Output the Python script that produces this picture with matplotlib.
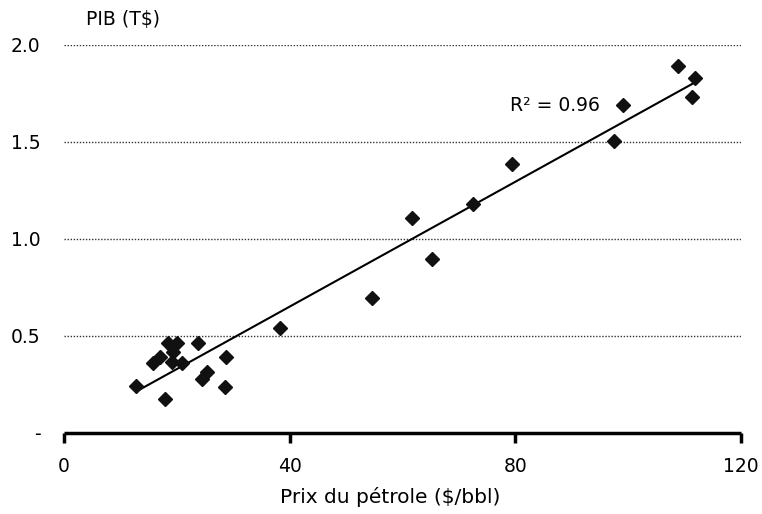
import numpy as np
import matplotlib
matplotlib.use("Agg")
import matplotlib.pyplot as plt

plt.rcParams['font.family'] = ['DejaVu Sans']

# Oil price ($/bbl) and GDP (T$)
oil_price = [12.8, 17.9, 15.8, 17.0, 18.5, 20.1, 19.3, 19.1, 20.9, 23.8,
             24.4, 25.3, 28.5, 28.8, 38.3, 54.6, 61.7, 65.2, 72.5, 79.5,
             97.5, 99.1, 108.8, 111.4, 111.8]
gdp = [0.244, 0.175, 0.359, 0.393, 0.462, 0.462, 0.419, 0.368, 0.359, 0.465,
       0.277, 0.316, 0.236, 0.393, 0.540, 0.694, 1.110, 0.897, 1.180, 1.387,
       1.507, 1.690, 1.890, 1.730, 1.830]

x_ticks = [0, 40, 80, 120]
y_ticks = [0, 0.5, 1.0, 1.5, 2.0]
y_tick_labels = ['-', '0.5', '1.0', '1.5', '2.0']

x = np.array(oil_price)
y = np.array(gdp)
slope, intercept = np.polyfit(x, y, 1)
pred = slope * x + intercept
r2 = 1 - np.sum((y - pred) ** 2) / np.sum((y - y.mean()) ** 2)

FS = 13.5
fig = plt.figure(figsize=(7.62, 5.14), dpi=100)
ax = fig.add_axes([0.084, 0.1576, 0.8884, 0.7549])

for yt in y_ticks[1:]:
    ax.axhline(yt, color='#333333', lw=1.0, ls=(0, (1, 1.2)), zorder=1)

xs = np.array([x.min(), x.max()])
ax.plot(xs, slope * xs + intercept, color='black', lw=1.5, zorder=2)
ax.plot(x, y, 'D', color='#111111', ms=7.2, mec='#111111', zorder=3, ls='none')

ax.text(95.0, 1.686, f'R² = {r2:.2f}', fontsize=FS, ha='right', va='center')

ax.set_xlim(0, 120)
ax.set_ylim(0, 2.0)
ax.set_xticks(x_ticks)
ax.set_xticklabels([str(t) for t in x_ticks], fontsize=FS)
ax.set_yticks(y_ticks)
ax.set_yticklabels(y_tick_labels, fontsize=FS)

for s in ['top', 'right', 'left']:
    ax.spines[s].set_visible(False)
ax.spines['bottom'].set_linewidth(2.5)
ax.spines['bottom'].set_capstyle('butt')
ax.tick_params(axis='x', direction='out', length=7, width=2.5, pad=10)
ax.tick_params(axis='y', length=0, pad=17)

fig.text(0.512, 1 - 497 / 514, 'Prix du pétrole ($/bbl)', fontsize=14.5,
         ha='center', va='center')
fig.text(0.161, 0.963, 'PIB (T$)', fontsize=FS, ha='center', va='center')

fig.savefig('out.png', dpi=100)
